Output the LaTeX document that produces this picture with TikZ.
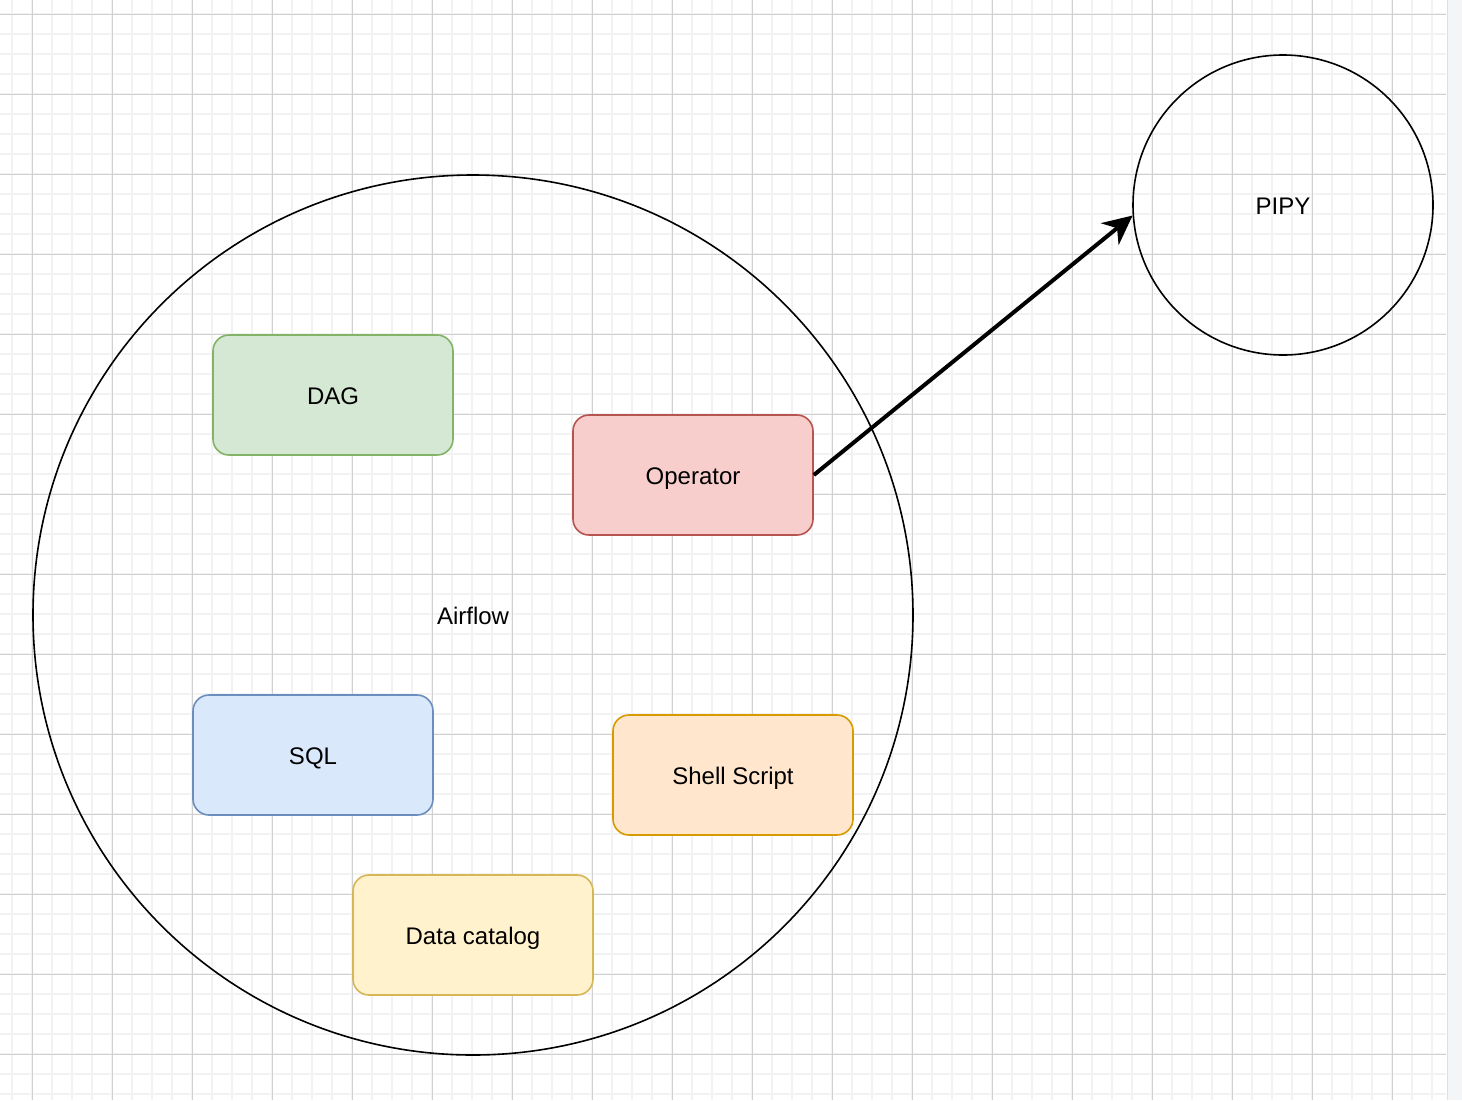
\documentclass[tikz,border=0pt]{standalone}
\usepackage{fontspec}
\setmainfont{Liberation Sans}
\usetikzlibrary{arrows.meta}
\definecolor{minorgrid}{HTML}{F2F2F2}
\definecolor{majorgrid}{HTML}{D0D0D0}
\definecolor{stripbg}{HTML}{F4F5F7}
\definecolor{greenfill}{HTML}{D5E8D4}\definecolor{greenline}{HTML}{82B366}
\definecolor{redfill}{HTML}{F8CECC}\definecolor{redline}{HTML}{B85450}
\definecolor{bluefill}{HTML}{DAE8FC}\definecolor{blueline}{HTML}{6C8EBF}
\definecolor{orangefill}{HTML}{FFE6CC}\definecolor{orangeline}{HTML}{D79B00}
\definecolor{yellowfill}{HTML}{FFF2CC}\definecolor{yellowline}{HTML}{D6B656}
\tikzset{
  lbl/.style={font=\fontsize{18pt}{21pt}\selectfont, text height=15pt, text depth=1pt},
  box/.style={lbl, draw, line width=1.2pt, rounded corners=12pt, minimum width=180pt, minimum height=90pt, inner sep=0pt},
  ring/.style={lbl, draw, circle, line width=1.2pt, inner sep=0pt},
  link/.style={line width=3pt, -{Stealth[length=22pt,width=21pt,inset=7pt]}}
}
\begin{document}
\begin{tikzpicture}[x=0.75pt,y=-0.75pt]
\useasboundingbox (0,0) rectangle (1462,1100);
\fill[white] (0,0) rectangle (1462,1100);
% grid
\foreach \gx in {12,32,...,1440} \draw[minorgrid, line width=1.5pt] (\gx,0) -- (\gx,1100);
\foreach \gy in {14,34,...,1100} \draw[minorgrid, line width=1.5pt] (0,\gy) -- (1446,\gy);
\foreach \gx in {32,112,...,1440} \draw[majorgrid, line width=0.75pt] (\gx,0) -- (\gx,1100);
\foreach \gy in {14,94,...,1100} \draw[majorgrid, line width=0.75pt] (0,\gy) -- (1446,\gy);
\fill[stripbg] (1447,0) rectangle (1462,1100);
\draw[black!12, line width=1pt] (1447.5,0) -- (1447.5,1100);
% shapes
\node[ring, minimum size=660pt] (airflow) at (473,615) {Airflow};
\node[ring, minimum size=225pt] (pipy) at (1283,205) {PIPY};
\node[box, fill=greenfill, draw=greenline] (dag) at (333,395) {DAG};
\node[box, fill=redfill, draw=redline] (operator) at (693,475) {Operator};
\node[box, fill=bluefill, draw=blueline] (sql) at (313,755) {SQL};
\node[box, fill=orangefill, draw=orangeline] (shell) at (733,775) {Shell Script};
\node[box, fill=yellowfill, draw=yellowline] (catalog) at (473,935) {Data catalog};
\draw[link] (operator.east) -- (pipy.184);
\end{tikzpicture}
\end{document}
